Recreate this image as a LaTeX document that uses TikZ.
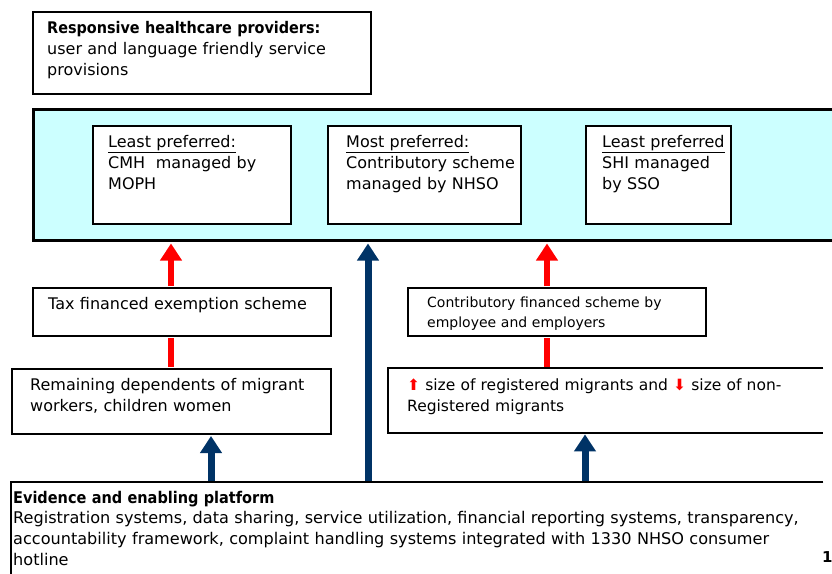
\documentclass[tikz,border=0pt]{standalone}
\usepackage{fontspec}
\setmainfont{DejaVu Sans}
\newfontfamily\condfont{DejaVu Sans Condensed}
\usetikzlibrary{arrows.meta}
\definecolor{navy}{RGB}{0,51,102}
\definecolor{bandcyan}{RGB}{204,255,255}
\definecolor{arrred}{RGB}{255,0,0}
\newcommand\firstln{\rule{0pt}{14pt}}
\begin{document}
\begin{tikzpicture}[x=1pt,y=-1pt,
  box/.style={draw=black, line width=2pt, fill=white, anchor=north west, inner sep=0pt},
  openbox/.style={fill=white, anchor=north west, inner sep=0pt},
  border/.style={draw=black, line width=2pt},
  txt/.style={anchor=north west, inner sep=0pt, align=left, text width=820pt, font=\fontsize{16}{21}\selectfont},
  regtxtstyle/.style={txt, font=\fontsize{15.5}{21}\selectfont},
  smalltxt/.style={txt, font=\fontsize{14}{20}\selectfont},
  evtxt/.style={txt, font=\fontsize{16.1}{20.6}\selectfont},
  redline/.style={draw=arrred, line width=6.5pt},
  navyline/.style={draw=navy, line width=7pt},
  uptip/.style={-{Triangle[width=21pt,length=17pt]}},
]
\useasboundingbox (0,0) rectangle (832,573);

% boxes
\node[box, minimum width=338pt, minimum height=82pt] (top) at (32,11) {};
\node[box, line width=3pt, fill=bandcyan, minimum width=830pt, minimum height=131pt] (band) at (32,108) {};
\node[box, line width=1.5pt, minimum width=198pt, minimum height=98pt] (b1) at (92,125) {};
\node[box, line width=1.5pt, minimum width=193pt, minimum height=98pt] (b2) at (327,125) {};
\node[box, line width=1.5pt, minimum width=145pt, minimum height=98pt] (b3) at (585,125) {};
\node[box, minimum width=298pt, minimum height=48pt] (tax) at (32,287) {};
\node[box, minimum width=298pt, minimum height=48pt] (contrib) at (407,287) {};
\node[box, minimum width=319pt, minimum height=65pt] (remain) at (11,368) {};
\node[openbox, minimum width=435pt, minimum height=65pt] (reg) at (388,368) {};
\draw[border] (reg.north east) -- (reg.north west) -- (reg.south west) -- (reg.south east);
\node[openbox, minimum width=812pt, minimum height=120pt] (evid) at (11,482) {};
\draw[border] (evid.north east) -- (evid.north west) -- (evid.south west);

% arrow columns
\coordinate (xa) at (171,0);
\coordinate (xb) at (211,0);
\coordinate (xc) at (368,0);
\coordinate (xd) at (547,0);
\coordinate (xe) at (585,0);

\draw[redline, uptip, shorten <=1pt, shorten >=1.5pt] (tax.north -| xa) -- (band.south -| xa);
\draw[redline, shorten <=1pt, shorten >=1pt] (remain.north -| xa) -- (tax.south -| xa);
\draw[redline, uptip, shorten <=1pt, shorten >=1.5pt] (contrib.north -| xd) -- (band.south -| xd);
\draw[redline, shorten <=1pt, shorten >=1pt] (reg.north -| xd) -- (contrib.south -| xd);
\draw[navyline, uptip, shorten <=1pt, shorten >=1.5pt] (evid.north -| xc) -- (band.south -| xc);
\draw[navyline, uptip, shorten <=1pt, shorten >=1pt] (evid.north -| xb) -- (remain.south -| xb);
\draw[navyline, uptip, shorten <=1pt, shorten >=1pt] (evid.north -| xe) -- (reg.south -| xe);

% texts
\node[txt] (toptext) at (47,19) {\firstln{\condfont\bfseries Responsive healthcare providers:}\\user and language friendly service\\provisions};
\node[txt] (b1text) at (108,133) {\firstln\underline{Least preferred:}\\CMH\ \ managed by\\MOPH};
\node[txt] (b2text) at (346,133) {\firstln\underline{Most preferred:}\\Contributory scheme\\managed by NHSO};
\node[txt] (b3text) at (602,133) {\firstln\underline{Least preferred}\\SHI managed\\by SSO};
\node[txt] (taxtext) at (48,295) {\firstln Tax financed exemption scheme};
\node[smalltxt] (contribtext) at (427,293) {\firstln Contributory financed scheme by\\employee and employers};
\node[txt] (remaintext) at (30,376) {\firstln Remaining dependents of migrant\\workers, children women};
\node[regtxtstyle] (regtext) at (407,376) {\firstln{\color{arrred}⬆} size of registered migrants and {\color{arrred}⬇} size of non-\\Registered migrants};
\node[evtxt] (evidtext) at (13,489) {\firstln{\condfont\bfseries Evidence and enabling platform}\\Registration systems, data sharing, service utilization, financial reporting systems, transparency,\\accountability framework, complaint handling systems integrated with 1330 NHSO consumer\\hotline};
\node[anchor=base west, inner sep=0pt, font=\fontsize{15}{18}\selectfont\bfseries] (pagenum) at (822,562) {1};
\end{tikzpicture}
\end{document}
